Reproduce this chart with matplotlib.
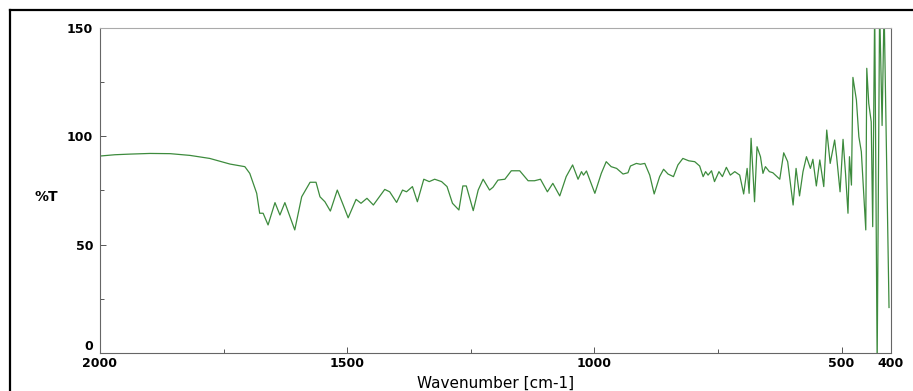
import matplotlib
matplotlib.use("Agg")
import matplotlib.pyplot as plt
from matplotlib.lines import Line2D

plt.rcParams['font.family'] = ['DejaVu Sans']

# IR spectrum (wavenumber in cm-1, transmittance in %T)
wavenumber = [
    2000, 1970, 1939, 1899, 1858, 1818, 1778, 1737, 1707, 1697,
    1683, 1677, 1670, 1660, 1646, 1636, 1626, 1606, 1592, 1575,
    1563, 1555, 1545, 1534, 1520, 1508, 1498, 1482, 1472, 1460,
    1447, 1424, 1414, 1400, 1388, 1380, 1368, 1358, 1345, 1334,
    1323, 1309, 1298, 1287, 1274, 1266, 1259, 1245, 1235, 1225,
    1212, 1205, 1195, 1181, 1168, 1151, 1134, 1121, 1109, 1095,
    1084, 1070, 1057, 1044, 1033, 1026, 1022, 1016, 999, 986,
    976, 966, 955, 942, 932, 927, 915, 907, 898, 888,
    879, 868, 860, 851, 840, 831, 821, 809, 797, 787,
    780, 775, 770, 763, 757, 748, 741, 733, 725, 716,
    706, 698, 691, 687, 683, 676, 671, 664, 659, 654,
    646, 639, 625, 617, 609, 598, 592, 585, 578, 571,
    563, 558, 551, 544, 536, 530, 523, 514, 510, 503,
    497, 492, 487, 484, 480, 477, 470, 465, 460, 451,
    449, 445, 440, 437, 433, 428, 423, 418, 414, 404,
]
transmittance = [
    90.9, 91.5, 91.8, 92.1, 92.0, 91.2, 89.8, 87.2, 86.0, 82.9,
    73.7, 64.5, 64.5, 59.1, 69.4, 63.7, 69.4, 56.8, 72.1, 78.8,
    78.8, 72.1, 69.8, 65.5, 75.2, 68.3, 62.4, 70.9, 69.1, 71.4,
    68.3, 75.5, 74.4, 69.5, 75.2, 74.4, 76.8, 69.8, 80.2, 79.1,
    80.2, 79.1, 76.8, 69.1, 66.0, 77.1, 77.1, 65.7, 75.2, 80.2,
    75.2, 76.5, 79.8, 80.2, 84.1, 84.1, 79.5, 79.5, 80.2, 74.4,
    78.3, 72.5, 81.4, 86.8, 80.2, 83.7, 82.1, 84.0, 73.7, 82.9,
    88.3, 86.0, 85.2, 82.6, 83.2, 86.3, 87.5, 87.1, 87.5, 82.1,
    73.4, 81.4, 84.8, 82.6, 81.4, 86.8, 89.8, 88.7, 88.3, 86.3,
    81.4, 83.7, 82.1, 84.1, 79.1, 83.7, 81.4, 85.7, 82.1, 83.7,
    82.1, 73.4, 85.2, 73.7, 99.1, 69.8, 95.2, 90.6, 82.9, 86.0,
    83.7, 83.2, 80.2, 92.4, 88.3, 68.3, 85.2, 72.5, 83.7, 90.6,
    85.2, 89.4, 77.1, 89.1, 76.8, 102.9, 87.5, 98.3, 90.6, 74.4,
    98.6, 82.9, 64.5, 90.6, 77.5, 127.2, 116.8, 99.8, 92.9, 56.8,
    131.4, 115.2, 106.7, 58.3, 160.0, -5.0, 160.0, 105.0, 160.0, 21.0,
]

x_major = [2000, 1500, 1000, 500, 400]
x_minor = [1750, 1250, 750]
y_major = [0, 50, 100, 150]
y_minor = [25, 75, 125]

fig = plt.figure(figsize=(9.13, 3.91), dpi=100)
fig.patch.set_facecolor('white')
ax = fig.add_axes([0.1095, 0.0972, 0.8664, 0.8312])

ax.plot(wavenumber, transmittance, color='#3d8b3d', lw=0.9)

ax.set_xlim(2000, 400)
ax.set_ylim(0, 150)

ax.set_xticks(x_major)
ax.set_xticks(x_minor, minor=True)
ax.set_yticks(y_major)
ax.set_yticks(y_minor, minor=True)
ax.tick_params(which='both', direction='in', colors='#555555', labelcolor='black',
               labelsize=9, width=0.7)
ax.tick_params(which='major', length=4)
ax.tick_params(which='minor', length=3)
ax.tick_params(axis='x', pad=3)
ax.tick_params(axis='y', pad=5)
for lab in ax.get_xticklabels() + ax.get_yticklabels():
    lab.set_fontweight('bold')
# the "0" sits just above the "2000" as on the print-out
ax.yaxis.get_major_ticks()[0].label1.set_verticalalignment('bottom')

for spine in ax.spines.values():
    spine.set_color('#666666')
    spine.set_linewidth(0.8)
ax.spines['top'].set_color('#aaaaaa')

ax.set_xlabel('Wavenumber [cm-1]', fontsize=11, labelpad=4)
ax.set_ylabel('%T', fontsize=10, fontweight='bold', rotation=0, va='center')
ax.yaxis.set_label_coords(-0.068, 0.48)

# outer frame of the scanned page
fig.add_artist(Line2D([0.011, 1.0], [0.974, 0.974], transform=fig.transFigure,
                      color='black', lw=1.6))
fig.add_artist(Line2D([0.011, 0.011], [0.0, 0.974], transform=fig.transFigure,
                      color='black', lw=1.6))

fig.savefig('out.png', dpi=100)
